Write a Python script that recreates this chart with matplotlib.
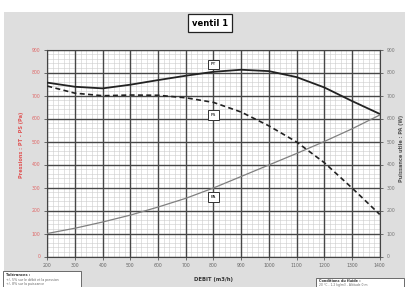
import numpy as np
import matplotlib.pyplot as plt
from matplotlib.patches import Rectangle
from matplotlib.ticker import MultipleLocator

# debit (m3/h)
debit = [200, 300, 400, 500, 600, 700, 800, 900, 1000, 1100, 1200, 1300, 1400]
pt = [756, 738, 731, 747, 767, 786, 803, 812, 806, 780, 735, 676, 620]
ps = [741, 710, 699, 702, 701, 690, 670, 628, 568, 498, 408, 298, 183]
pa = [100, 123, 150, 180, 215, 253, 298, 348, 398, 448, 500, 555, 615]

W, H = 409, 287
fig = plt.figure(figsize=(W / 100, H / 100), dpi=100)
fig.patch.set_facecolor('white')

# grey panel
fig.patches.append(Rectangle((4 / W, 0), 401 / W, (H - 12) / H,
                             transform=fig.transFigure, facecolor='#dedede',
                             edgecolor='none', zorder=-2))

ax = fig.add_axes([47.3 / W, (H - 256.5) / H, 332.4 / W, 207 / H])
ax.set_facecolor('white')
ax.set_xlim(200, 1400)
ax.set_ylim(0, 900)
ax.xaxis.set_major_locator(MultipleLocator(100))
ax.xaxis.set_minor_locator(MultipleLocator(20))
ax.yaxis.set_major_locator(MultipleLocator(100))
ax.yaxis.set_minor_locator(MultipleLocator(20))
ax.grid(which='minor', color='#cccccc', lw=0.4)
ax.set_axisbelow(True)
# major grid drawn over the minor one
for v in ax.get_xticks():
    ax.axvline(v, color='#474747', lw=1.0, zorder=0.8)
for v in ax.get_yticks():
    ax.axhline(v, color='#474747', lw=1.0, zorder=0.8)
ax.tick_params(which='major', length=2, width=0.6, color='#555555', labelsize=3.3, pad=3)
ax.tick_params(which='minor', length=0)
ax.tick_params(axis='y', labelcolor='#e06666')
ax.tick_params(axis='x', labelcolor='#666666')
for s in ax.spines.values():
    s.set_color('#444444')
    s.set_linewidth(0.8)

ax.plot(debit, pt, color='#222222', lw=1.3, zorder=3)
ax.plot(debit, ps, color='#222222', lw=1.2, ls=(0, (3, 2)), zorder=3)

ax2 = ax.twinx()
ax2.set_ylim(0, 900)
ax2.yaxis.set_major_locator(MultipleLocator(100))
ax2.tick_params(length=2, width=0.6, color='#555555', labelsize=3.3, labelcolor='#777777', pad=3)
for s in ax2.spines.values():
    s.set_visible(False)
ax2.plot(debit, pa, color='#808080', lw=0.9)

box = dict(boxstyle='square,pad=0.6', facecolor='white', edgecolor='#333333', lw=0.7)
ax.text(800, 835, 'PT', fontsize=3.2, ha='center', va='center', bbox=box, zorder=5)
ax.text(800, 615, 'PS', fontsize=3.2, ha='center', va='center', bbox=box, zorder=5)
ax2.text(800, 259, 'PA', fontsize=3.2, ha='center', va='center', bbox=box, zorder=5)

fig.text(210 / W, 1 - 23 / H, 'ventil 1', fontsize=6, fontweight='bold',
         ha='center', va='center',
         bbox=dict(boxstyle='square,pad=0.5', facecolor='white',
                   edgecolor='#222222', lw=0.9))

fig.text(22 / W, 1 - 145 / H, 'Pressions : PT - PS (Pa)', fontsize=3.6,
         fontweight='bold', color='#e05555', rotation=90, ha='center', va='center')
fig.text(401 / W, 1 - 148 / H, 'Puissance utile : PA (W)', fontsize=3.6,
         fontweight='bold', color='#555555', rotation=90, ha='center', va='center')
fig.text(213 / W, 1 - 280 / H, 'DEBIT (m3/h)', fontsize=3.8, fontweight='bold',
         color='#333333', ha='center', va='center')

# bottom boxes
fig.patches.append(Rectangle((3 / W, 0), 78 / W, 16 / H, transform=fig.transFigure,
                             facecolor='white', edgecolor='#555555', lw=0.6, zorder=-1))
fig.text(6 / W, 1 - 275 / H, 'Tolérances :', fontsize=2.6, fontweight='bold', color='#333333', va='center')
fig.text(6 / W, 1 - 280 / H, '+/- 5% sur le débit et la pression', fontsize=2.3, color='#666666', va='center')
fig.text(6 / W, 1 - 284.5 / H, '+/- 8% sur la puissance', fontsize=2.3, color='#666666', va='center')

fig.patches.append(Rectangle((316 / W, 0), 88 / W, 9 / H, transform=fig.transFigure,
                             facecolor='white', edgecolor='#555555', lw=0.6, zorder=-1))
fig.text(319 / W, 1 - 281 / H, 'Conditions du fluide :', fontsize=2.5, fontweight='bold', color='#333333', va='center')
fig.text(319 / W, 1 - 285 / H, '20 °C - 1.2 kg/m3 - Altitude 0 m', fontsize=2.2, color='#666666', va='center')

fig.savefig('out.png', dpi=100)
